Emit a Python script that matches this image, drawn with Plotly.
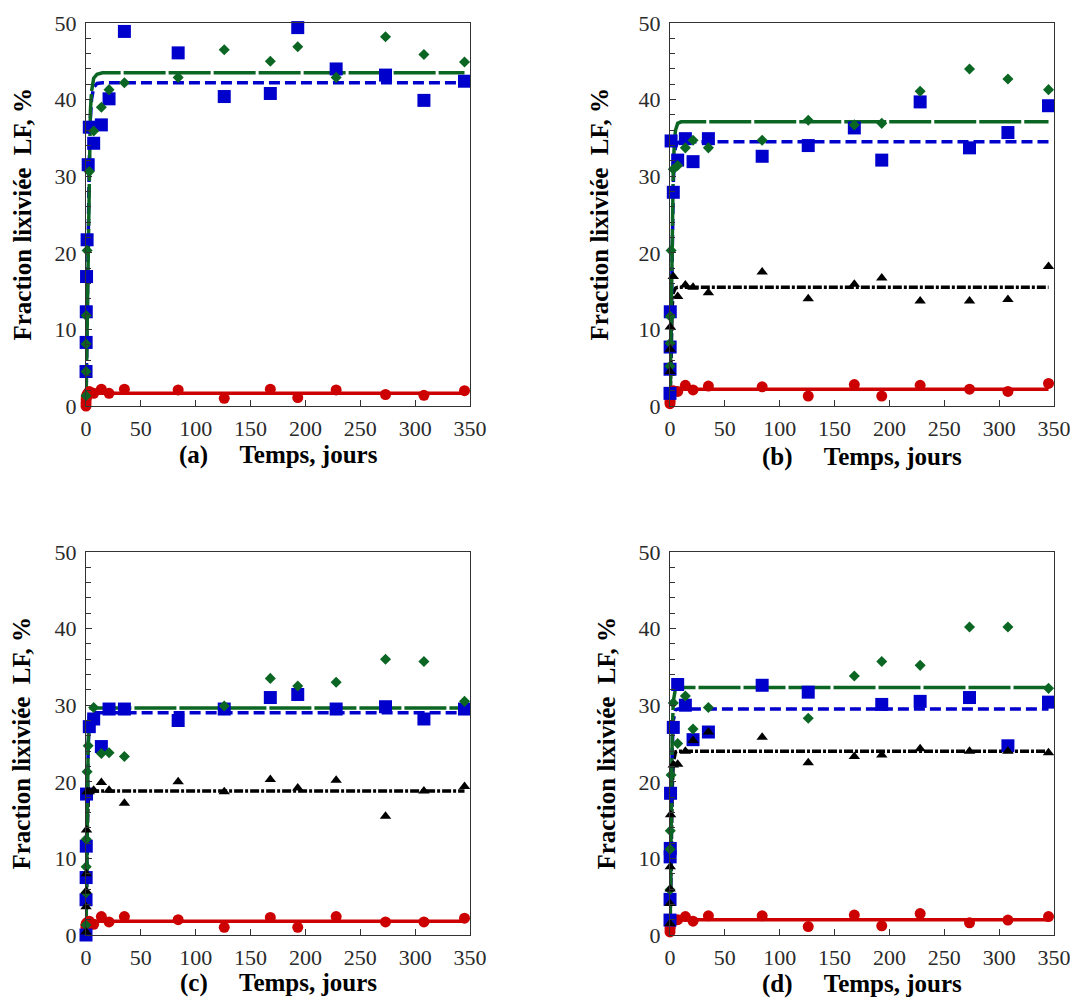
import plotly.graph_objects as go

# ---------------- data ----------------
# sampling times (days)
T = [0, 0.04, 0.125, 0.25, 0.5, 1, 2, 3, 7, 14, 21, 35, 84, 126, 168, 193, 228, 273, 308, 345]

# panel (a)
BLUE_A = [None, 4.5, 8.3, 12.3, 16.9, 21.7, 31.5, 36.4, 34.3, 36.7, 40.1, 48.9, 46.1, 40.4, 40.8, 49.4, 44.0, 43.2, 39.9, 42.4]
GREEN_A = [1.35, 4.5, 8.1, 11.8, None, 20.3, None, 30.6, 35.9, 39.0, 41.3, 42.2, 42.9, 46.5, 45.0, 46.9, 42.9, 48.2, 45.9, 44.9]
RED_A = [0.0, 0.4, 0.8, 1.1, 1.3, 1.5, 1.7, 1.9, 1.65, 2.2, 1.65, 2.2, 2.1, 1.0, 2.2, 1.1, 2.1, 1.5, 1.4, 2.0]

# panel (b)
BLUE_B = [1.65, 4.8, 7.7, 12.3, None, 34.6, None, 27.9, 32.1, 34.9, 31.9, 34.9, 32.6, 34.0, 36.3, 32.1, 39.7, 33.7, 35.7, 39.2]
GREEN_B = [None, 5.2, 8.2, 11.7, None, 20.3, None, 30.9, 31.4, 33.7, 34.7, 33.7, 34.7, 37.3, 36.7, 36.9, 41.1, 44.0, 42.7, 41.3]
BLACK_B = [None, 4.5, 7.4, 10.3, None, None, None, 16.9, 14.3, 15.8, 15.5, 14.8, 17.5, 14.0, 15.9, 16.7, 13.7, 13.7, 13.9, 18.2]
RED_B = [0.3, 0.6, 0.9, 1.2, 1.4, 1.6, 1.8, 2.0, 1.9, 2.7, 2.1, 2.6, 2.5, 1.3, 2.8, 1.3, 2.7, 2.2, 1.9, 2.95]

# panel (c)
BLUE_C = [0.0, 4.6, 7.5, 11.6, 18.4, None, None, 27.2, 28.2, 24.6, 29.5, 29.5, 28.0, 29.5, 31.0, 31.4, 29.5, 29.8, 28.2, 29.5]
GREEN_C = [1.3, 5.5, 8.9, 12.5, None, 21.3, 24.7, None, 29.7, 23.7, 23.8, 23.3, None, 29.9, 33.5, 32.5, 33.0, 36.0, 35.7, 30.5]
BLACK_C = [0.4, 3.7, 5.7, 8.0, 13.7, 18.7, None, 18.7, 18.9, 19.9, 18.9, 17.2, 20.0, 18.7, 20.3, 19.2, 20.2, 15.5, 18.8, 19.4]
RED_C = [1.4, 1.0, 1.2, 1.3, 1.5, 1.6, 1.7, 1.8, 1.4, 2.4, 1.7, 2.4, 2.0, 1.0, 2.3, 1.0, 2.4, 1.7, 1.7, 2.2]

# panel (d)
BLUE_D = [1.95, 4.65, 10.2, 11.3, 18.5, None, None, 27.1, 32.7, 30.0, 25.5, 26.5, 32.6, 31.7, None, 30.1, 30.5, 31.0, 24.7, 30.4]
GREEN_D = [None, 5.9, 11.2, 13.6, None, 20.9, None, 30.3, 25.0, 31.2, 26.9, 29.7, None, 28.3, 33.8, 35.7, 35.2, 40.2, 40.2, 32.2]
BLACK_D = [1.5, 4.1, 6.0, 8.9, 15.7, None, None, 22.2, 22.3, 24.0, 25.4, 26.5, 25.8, 22.5, 23.3, 23.5, 24.3, 24.0, 24.0, 23.8]
RED_D = [0.4, 0.8, 1.1, 1.3, 1.5, 1.7, 1.8, 1.9, 2.0, 2.4, 1.8, 2.5, 2.5, 1.1, 2.6, 1.2, 2.8, 1.6, 1.95, 2.4]

# fitted curves
FIT_T = [0, 0.5, 1, 2, 3, 4, 5, 7, 10, 15, 345]
FIT_GREEN_A = [0, 6, 12, 24, 33, 38.5, 41, 42.8, 43.3, 43.5, 43.5]
FIT_BLUE_A = [0, 6, 12, 23, 32, 37.5, 40, 41.6, 42.1, 42.2, 42.2]
FIT_RED_A = [0, 1.0, 1.4, 1.6, 1.65, 1.65, 1.65, 1.65, 1.65, 1.65, 1.65]

FIT_GREEN_B = [0, 6, 12, 24, 31, 34.5, 36, 36.9, 37.1, 37.1, 37.1]
FIT_BLUE_B = [0, 6, 11, 22, 29, 32.5, 33.8, 34.4, 34.5, 34.5, 34.5]
FIT_BLACK_B = [0, 5, 9, 13, 14.8, 15.3, 15.4, 15.5, 15.5, 15.5, 15.5]
FIT_RED_B = [0, 1.5, 2.0, 2.2, 2.2, 2.2, 2.2, 2.2, 2.2, 2.2, 2.2]

FIT_GREEN_C = [0, 8, 15, 25, 28.5, 29.3, 29.6, 29.65, 29.65, 29.65, 29.65]
FIT_BLUE_C = [0, 8, 15, 24.5, 28, 28.7, 28.9, 29.0, 29.0, 29.0, 29.0]
FIT_BLACK_C = [0, 8, 13, 17.5, 18.5, 18.8, 18.8, 18.8, 18.8, 18.8, 18.8]
FIT_RED_C = [0, 1.4, 1.7, 1.8, 1.8, 1.8, 1.8, 1.8, 1.8, 1.8, 1.8]

FIT_GREEN_D = [0, 8, 15, 26, 30.5, 31.8, 32.2, 32.3, 32.3, 32.3, 32.3]
FIT_BLUE_D = [0, 7, 14, 24, 28, 29.1, 29.4, 29.5, 29.5, 29.5, 29.5]
FIT_BLACK_D = [0, 7, 12, 19, 22.5, 23.5, 23.9, 24.0, 24.0, 24.0, 24.0]
FIT_RED_D = [0, 1.6, 1.9, 2.0, 2.0, 2.0, 2.0, 2.0, 2.0, 2.0, 2.0]

PANEL_LETTERS = ["(a)", "(b)", "(c)", "(d)"]
X_TICKS = [0, 50, 100, 150, 200, 250, 300, 350]
Y_TICKS = [0, 10, 20, 30, 40, 50]
X_TITLE = "Temps, jours"
Y_TITLE = "Fraction lixiviée\u00a0\u00a0LF, %"

# ---------------- styling ----------------
W, H = 1070, 1000
BLUE = "#0000CC"
GREEN = "#0B6623"
RED = "#CC0000"
BLACK = "#000000"
AX = "#333333"
FONT = "Liberation Serif"

# pixel geometry of the four plot areas (left, right, top, bottom)
BOXES = [(86, 470, 23, 406), (670, 1054, 23, 406), (86, 470, 552, 935), (670, 1054, 552, 935)]
YTITLE_X = [22, 599, 21, 606]
XTITLE_Y = [455, 457, 983, 984]


def fx(px):
    return px / W


def fy(py):
    return 1 - py / H


panels = [
    dict(blue=BLUE_A, green=GREEN_A, black=None, red=RED_A,
         fits=dict(green=FIT_GREEN_A, blue=FIT_BLUE_A, black=None, red=FIT_RED_A)),
    dict(blue=BLUE_B, green=GREEN_B, black=BLACK_B, red=RED_B,
         fits=dict(green=FIT_GREEN_B, blue=FIT_BLUE_B, black=FIT_BLACK_B, red=FIT_RED_B)),
    dict(blue=BLUE_C, green=GREEN_C, black=BLACK_C, red=RED_C,
         fits=dict(green=FIT_GREEN_C, blue=FIT_BLUE_C, black=FIT_BLACK_C, red=FIT_RED_C)),
    dict(blue=BLUE_D, green=GREEN_D, black=BLACK_D, red=RED_D,
         fits=dict(green=FIT_GREEN_D, blue=FIT_BLUE_D, black=FIT_BLACK_D, red=FIT_RED_D)),
]

line_styles = {
    "red": dict(color=RED, width=3.5, dash="solid"),
    "black": dict(color=BLACK, width=3.5, dash="9px,2px,3px,2px"),
    "blue": dict(color=BLUE, width=3.5, dash="11px,5px"),
    "green": dict(color=GREEN, width=3.5, dash="42px,3px"),
}
marker_styles = {
    "red": dict(symbol="circle", size=11, color=RED),
    "blue": dict(symbol="square", size=13, color=BLUE),
    "green": dict(symbol="diamond", size=8.5, color=GREEN),
    "black": dict(symbol="triangle-up", size=10, color=BLACK),
}

fig = go.Figure()
layout = dict(width=W, height=H, autosize=False,
              margin=dict(l=0, r=0, t=0, b=0, pad=0, autoexpand=False),
              plot_bgcolor="white", paper_bgcolor="white", showlegend=False)
annotations = []

for i, p in enumerate(panels):
    n = "" if i == 0 else str(i + 1)
    xa, ya = "x" + n, "y" + n
    l, r, t, b = BOXES[i]
    xdom = [fx(l), fx(r)]
    ydom = [fy(b), fy(t)]
    axis_common = dict(showline=True, linecolor=AX, linewidth=1, mirror=True, showgrid=False,
                       zeroline=False, ticks="inside", tickcolor=AX, ticklen=6, tickwidth=1,
                       automargin=False, ticklabeloverflow="allow",
                       tickfont=dict(family=FONT, size=22, color="#2a2a2a"))
    layout["xaxis" + n] = dict(domain=xdom, range=[0, 350], tickvals=X_TICKS, anchor=ya,
                               ticklabelstandoff=3, **axis_common)
    layout["yaxis" + n] = dict(domain=ydom, range=[0, 50], tickvals=Y_TICKS, anchor=xa,
                               ticklabelstandoff=4,
                               minor=dict(dtick=2, ticks="inside", ticklen=5, tickcolor=AX, tickwidth=1),
                               **axis_common)
    # fitted lines
    for key in ["red", "black", "blue", "green"]:
        fyv = p["fits"][key]
        if fyv is None:
            continue
        fig.add_trace(go.Scatter(x=FIT_T, y=fyv, mode="lines", line=line_styles[key],
                                 xaxis=xa, yaxis=ya, cliponaxis=False, hoverinfo="skip"))
    # data markers
    for key in ["red", "blue", "green", "black"]:
        vals = p[key]
        if vals is None:
            continue
        fig.add_trace(go.Scatter(x=T, y=vals, mode="markers", marker=marker_styles[key],
                                 xaxis=xa, yaxis=ya, cliponaxis=False))
    # titles
    cx = (l + r) / 2
    annotations.append(dict(x=fx(cx), y=fy(XTITLE_Y[i]), xref="paper", yref="paper",
                            xanchor="center", yanchor="middle", showarrow=False,
                            text="<b>" + PANEL_LETTERS[i] + "\u00a0\u00a0\u00a0\u00a0\u00a0" + X_TITLE + "</b>",
                            font=dict(family=FONT, size=25, color="black")))
    annotations.append(dict(x=fx(YTITLE_X[i]), y=fy((t + b) / 2), xref="paper", yref="paper",
                            xanchor="center", yanchor="middle", showarrow=False, textangle=-90,
                            text="<b>" + Y_TITLE + "</b>",
                            font=dict(family=FONT, size=25, color="black")))

layout["annotations"] = annotations
fig.update_layout(**layout)
# remove the default 8px page margin so the figure fills the 1070x1000 window
fig.write_html("out.html", config={"displayModeBar": False},
               post_script="document.body.style.margin='0';document.documentElement.style.overflow='hidden';")
